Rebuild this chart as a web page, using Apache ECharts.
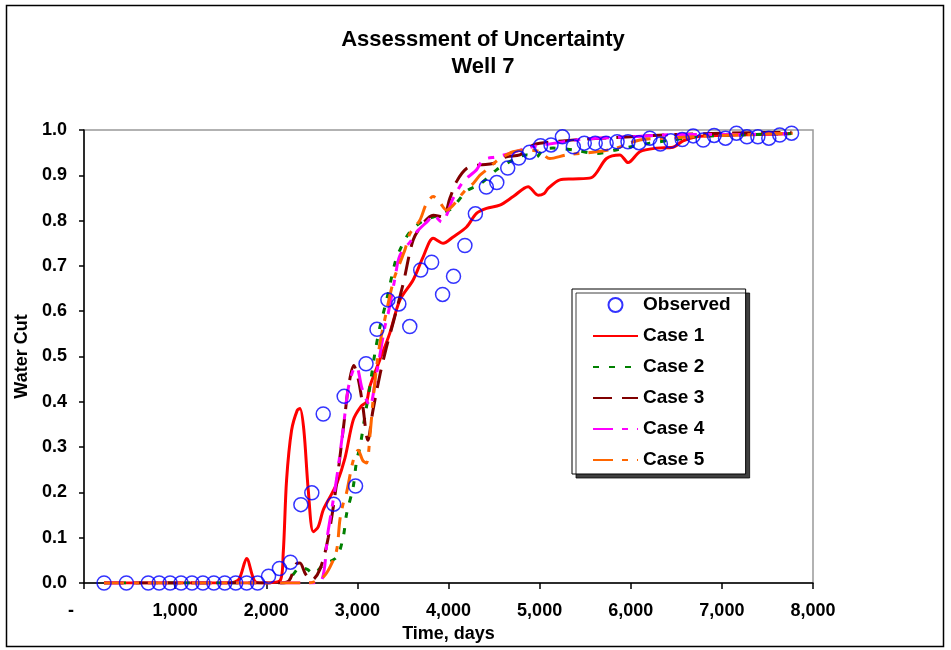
<!DOCTYPE html>
<html>
<head>
<meta charset="utf-8">
<script src="https://cdn.jsdelivr.net/npm/echarts@6/dist/echarts.min.js"></script>
<style>
html,body{margin:0;padding:0;background:#fff;}
#chart{width:951px;height:650px;}
</style>
</head>
<body>
<div id="chart"></div>
<script>
// ---- Data ----
const chartTitle = 'Assessment of Uncertainty';
const chartSubTitle = 'Well 7';
const xAxisName = 'Time, days';
const yAxisName = 'Water Cut';
const seriesNames = ['Observed', 'Case 1', 'Case 2', 'Case 3', 'Case 4', 'Case 5'];

const observedDays = [220,465,705,825,945,1065,1185,1305,1425,1545,1665,1785,1905,
  2025,2145,2265,2380,2500,2625,2740,2855,2980,3095,3215,3335,3455,3575,3695,3815,3935,4055,
  4180,4295,4415,4530,4650,4770,4890,5010,5125,5250,5370,5490,5610,5730,5850,5970,6090,6210,6325,6440,
  6565,6685,6795,6915,7040,7160,7275,7395,7515,7635,7765];
const observedWaterCut = [0,0,0,0,0,0,0,0,0,0,0,0,0,
  0.015,0.032,0.046,0.173,0.199,0.373,0.174,0.412,0.214,0.484,0.560,0.625,0.616,0.566,0.691,0.708,0.637,0.677,
  0.745,0.815,0.874,0.884,0.916,0.938,0.951,0.965,0.967,0.985,0.963,0.971,0.971,0.971,0.974,0.974,0.972,0.982,0.969,0.976,
  0.979,0.987,0.978,0.988,0.982,0.993,0.985,0.985,0.982,0.989,0.993];

const case1Days = [220,1600,1700,1785,1870,1950,2150,2186,2223,2278,2340,2370,2413,2461,2516,2570,2625,2700,2775,2863,2955,3040,3100,3135,3245,3355,3465,3612,3722,3832,3941,4051,4198,4307,4417,4563,4710,4874,4984,5050,5093,5222,5367,5569,5734,5880,5971,6100,6282,6464,6574,6721,7000,7400,7765];
const case1WaterCut = [0,0,0.008,0.054,0.005,0,0.005,0.065,0.227,0.337,0.381,0.385,0.337,0.205,0.113,0.124,0.161,0.19,0.22,0.275,0.36,0.39,0.40,0.433,0.492,0.551,0.624,0.669,0.72,0.761,0.75,0.764,0.786,0.816,0.827,0.834,0.853,0.875,0.856,0.86,0.871,0.89,0.892,0.895,0.937,0.945,0.928,0.952,0.96,0.962,0.976,0.985,0.988,0.99,0.992];

const case2Days = [220,2200,2300,2370,2450,2520,2625,2772,2844,2882,2954,2992,3028,3082,3137,3192,3247,3320,3412,3466,3576,3722,3832,3941,4051,4198,4344,4527,4710,4856,4960,5039,5148,5400,5624,5861,6209,6464,6684,7000,7765];
const case2WaterCut = [0,0,0.02,0.035,0.03,0.02,0.04,0.057,0.101,0.153,0.212,0.271,0.3,0.367,0.433,0.507,0.565,0.624,0.706,0.735,0.775,0.8,0.808,0.815,0.83,0.865,0.88,0.912,0.934,0.945,0.94,0.957,0.96,0.955,0.948,0.957,0.971,0.978,0.985,0.988,0.992];

const case3Days = [220,2150,2250,2333,2370,2430,2497,2589,2680,2772,2863,2900,2960,3010,3060,3115,3170,3250,3320,3400,3503,3612,3722,3832,3941,4015,4088,4198,4344,4490,4636,4783,4929,5002,5500,6000,6500,7000,7765];
const case3WaterCut = [0,0,0.005,0.043,0.044,0.02,0.006,0.03,0.1,0.22,0.37,0.43,0.48,0.45,0.39,0.315,0.38,0.462,0.521,0.58,0.661,0.757,0.794,0.812,0.808,0.849,0.886,0.915,0.923,0.926,0.941,0.945,0.967,0.971,0.98,0.985,0.99,0.993,0.995];

const case4Days = [220,2400,2589,2680,2772,2844,2900,2954,2990,3050,3100,3137,3200,3302,3338,3412,3466,3594,3650,3777,3832,3924,4051,4161,4307,4380,4527,4673,4856,5039,5500,6000,6500,7000,7765];
const case4WaterCut = [0,0,0.002,0.116,0.23,0.34,0.43,0.47,0.477,0.43,0.404,0.39,0.45,0.566,0.595,0.672,0.723,0.757,0.775,0.8,0.812,0.797,0.849,0.886,0.912,0.934,0.941,0.948,0.96,0.967,0.98,0.985,0.99,0.99,0.992];

const case5Days = [220,2400,2515,2625,2699,2772,2808,2844,2882,2954,3009,3060,3100,3140,3180,3240,3320,3400,3466,3521,3576,3686,3759,3832,3905,3978,4051,4125,4198,4271,4344,4417,4490,4563,4636,4710,4856,5002,5112,5295,5624,5844,6100,6392,7000,7778];
const case5WaterCut = [0,0,0.002,0.013,0.035,0.072,0.139,0.175,0.2,0.27,0.293,0.27,0.265,0.33,0.42,0.52,0.6,0.67,0.706,0.735,0.771,0.801,0.838,0.853,0.84,0.823,0.834,0.853,0.87,0.882,0.9,0.912,0.925,0.937,0.945,0.952,0.956,0.952,0.937,0.945,0.952,0.96,0.978,0.982,0.988,0.993];

// ---- Build chart ----
const FONT = "'Liberation Sans', Arial, sans-serif";
function pairs(xs, ys) { return xs.map((x, i) => [x, ys[i]]); }

const caseStyles = [
  {color: '#FF0000', type: 'solid'},
  {color: '#008000', type: [6, 10]},
  {color: '#800000', type: [19, 10]},
  {color: '#FF00FF', type: [20, 9, 6, 9]},
  {color: '#FF6600', type: [20, 9, 6, 9]}
];
const caseData = [
  pairs(case1Days, case1WaterCut),
  pairs(case2Days, case2WaterCut),
  pairs(case3Days, case3WaterCut),
  pairs(case4Days, case4WaterCut),
  pairs(case5Days, case5WaterCut)
];

const series = [{
  name: seriesNames[0],
  type: 'scatter',
  data: pairs(observedDays, observedWaterCut),
  symbol: 'circle',
  symbolSize: 14,
  itemStyle: {color: 'rgba(255,255,255,0)', borderColor: '#0000FF', borderWidth: 1.5},
  z: 3
}];
caseData.forEach((d, i) => {
  series.push({
    name: seriesNames[i + 1],
    type: 'line',
    data: d,
    smooth: 0.3,
    symbol: 'none',
    showSymbol: false,
    lineStyle: {color: caseStyles[i].color, width: 3, type: caseStyles[i].type},
    itemStyle: {color: caseStyles[i].color},
    z: 2
  });
});

const legendData = seriesNames.map((n, i) => i === 0 ? {name: n} :
  {name: n, itemStyle: {color: 'rgba(0,0,0,0)', borderColor: 'rgba(0,0,0,0)', borderWidth: 0, opacity: 0}});

const chart = echarts.init(document.getElementById('chart'), null, {renderer: 'canvas'});
chart.setOption({
  animation: false,
  backgroundColor: '#ffffff',
  textStyle: {fontFamily: FONT},
  title: {
    text: chartTitle + '\n' + chartSubTitle,
    left: 478,
    top: 21,
    textAlign: 'center',
    textStyle: {fontFamily: FONT, fontWeight: 'bold', fontSize: 22, color: '#000', lineHeight: 27}
  },
  graphic: [{
    type: 'rect',
    shape: {x: 6.5, y: 5.5, width: 937, height: 641},
    style: {fill: 'none', stroke: '#000', lineWidth: 1.5},
    silent: true, z: -1
  }],
  grid: {
    left: 84, top: 130, width: 729, height: 453,
    show: true, borderColor: '#999999', borderWidth: 1.5, backgroundColor: 'transparent',
    containLabel: false, outerBoundsMode: 'none'
  },
  legend: {
    data: legendData,
    orient: 'vertical',
    left: 572, top: 289,
    itemWidth: 45, itemHeight: 14, itemGap: 11,
    padding: [6, 15, 4, 20],
    backgroundColor: '#ffffff',
    borderColor: '#000000', borderWidth: 1,
    shadowColor: 'rgba(0,0,0,0.75)', shadowOffsetX: 4, shadowOffsetY: 4, shadowBlur: 0,
    textStyle: {fontFamily: FONT, fontWeight: 'bold', fontSize: 19, color: '#000', lineHeight: 20}
  },
  xAxis: {
    type: 'value', min: 0, max: 8000, interval: 1000,
    name: xAxisName, nameLocation: 'middle', nameGap: 38,
    nameTextStyle: {fontFamily: FONT, fontWeight: 'bold', fontSize: 18, color: '#000'},
    axisLine: {show: true, onZero: false, lineStyle: {color: '#000', width: 1.5}},
    axisTick: {show: true, inside: false, length: 6, lineStyle: {color: '#000', width: 1.5}},
    axisLabel: {
      margin: 19, color: '#000', fontFamily: FONT, fontWeight: 'bold', fontSize: 18,
      formatter: v => v === 0 ? '{z|-}' : v.toLocaleString('en-US'),
      rich: {z: {fontFamily: FONT, fontWeight: 'bold', fontSize: 18, color: '#000', padding: [0, 26, 0, 0]}}
    },
    splitLine: {show: false}
  },
  yAxis: {
    type: 'value', min: 0, max: 1, interval: 0.1,
    name: yAxisName, nameLocation: 'middle', nameGap: 52, nameRotate: 90,
    nameTextStyle: {fontFamily: FONT, fontWeight: 'bold', fontSize: 18, color: '#000'},
    axisLine: {show: true, onZero: false, lineStyle: {color: '#000', width: 1.5}},
    axisTick: {show: true, inside: false, length: 5, lineStyle: {color: '#000', width: 1.5}},
    axisLabel: {
      margin: 17, color: '#000', fontFamily: FONT, fontWeight: 'bold', fontSize: 18,
      formatter: v => v.toFixed(1)
    },
    splitLine: {show: false}
  },
  series: series
});
</script>
</body>
</html>
